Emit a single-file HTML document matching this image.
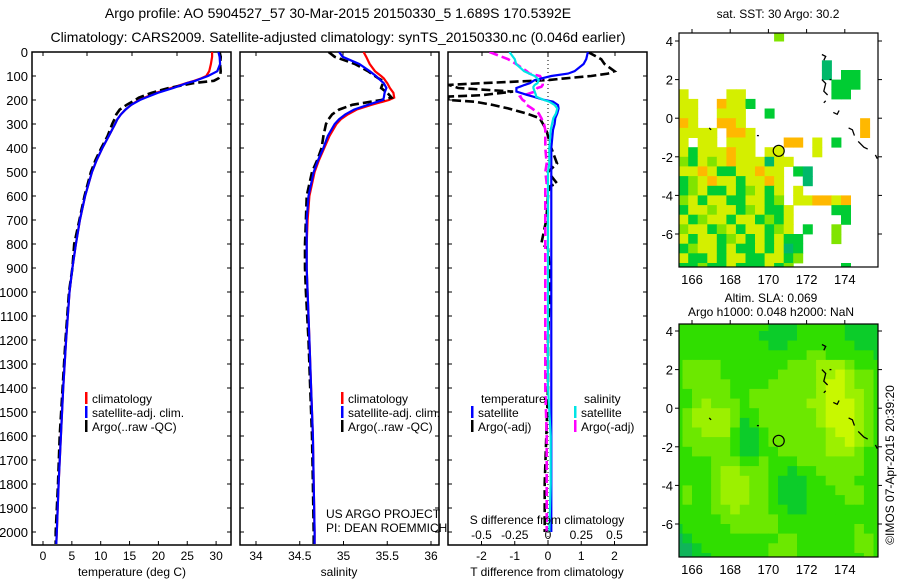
<!DOCTYPE html>
<html><head><meta charset="utf-8"><style>
html,body{margin:0;padding:0;background:#fff;}
svg{display:block;font-family:"Liberation Sans",sans-serif;}
text{fill:#000;}
</style></head><body>
<svg id="fig" width="900" height="580" viewBox="0 0 900 580" xmlns="http://www.w3.org/2000/svg">
<defs>
<clipPath id="c1"><rect x="32" y="52" width="199" height="493"/></clipPath>
<clipPath id="c2"><rect x="240" y="52" width="199" height="493"/></clipPath>
<clipPath id="c3"><rect x="448" y="52" width="199" height="493"/></clipPath>
<clipPath id="m1"><rect x="679" y="33" width="199" height="234"/></clipPath>
<clipPath id="m2"><rect x="679" y="324" width="199" height="233"/></clipPath>
</defs>
<text x="338" y="18" font-size="14" text-anchor="middle">Argo profile: AO 5904527_57 30-Mar-2015 20150330_5 1.689S 170.5392E</text>
<text x="338" y="42" font-size="14" text-anchor="middle">Climatology: CARS2009. Satellite-adjusted climatology: synTS_20150330.nc (0.046d earlier)</text>
<g id="g"></g>
</svg>
<script>
// ---- profile data ----
const depthP = [0,20,50,80,100,110,120,130,150,170,190,200,220,240,260,280,300,350,400,450,500,600,700,800,900,1000,1200,1400,1600,1800,2000,2050];
const climT = [29.3,29.3,29.1,28.8,28.3,27.4,26.2,24.8,22.2,19.6,17.6,16.6,15.3,14.3,13.5,12.9,12.5,11.4,10.3,9.3,8.5,7.3,6.4,5.7,5.1,4.6,4.0,3.5,3.1,2.7,2.4,2.3];
const satT = [30.4,30.6,30.7,30.2,28.6,27.5,26.4,24.9,22.6,19.9,17.8,16.8,15.3,14.3,13.5,12.9,12.5,11.4,10.3,9.3,8.5,7.3,6.4,5.7,5.1,4.6,4.0,3.5,3.1,2.7,2.4,2.3];
const argoT = [30.6,30.8,30.7,30.8,30.7,30.4,29.6,26.0,21.8,18.8,16.6,16.0,14.5,13.3,12.7,12.4,12.0,11.2,10.1,9.1,8.3,7.2,6.3,5.4,5.1,4.5,3.9,3.4,2.9,2.6,2.2,2.2];
const climS = [35.23,35.26,35.3,35.36,35.43,35.46,35.48,35.5,35.53,35.57,35.58,35.52,35.32,35.15,35.05,34.97,34.92,34.84,34.78,34.72,34.67,34.61,34.59,34.58,34.58,34.59,34.61,34.63,34.65,34.66,34.67,34.67];
const satS = [34.95,34.99,35.18,35.3,35.37,35.4,35.43,35.46,35.49,35.47,35.46,35.45,35.28,35.12,35.02,34.95,34.9,34.82,34.77,34.71,34.66,34.6,34.58,34.58,34.58,34.59,34.61,34.63,34.65,34.66,34.67,34.67];
const argoS = [34.83,34.9,35.13,35.28,35.36,35.4,35.45,35.45,35.43,35.5,35.55,35.43,35.1,34.95,34.87,34.83,34.8,34.77,34.75,34.7,34.64,34.58,34.57,34.56,34.56,34.57,34.6,34.62,34.64,34.65,34.66,34.66];
const depthD = [0,30,50,80,90,100,110,117,130,137,145,150,165,180,186,200,207,221,235,256,276,300,325,400,464,500,547,560,600,700,797,820,900,1000,1200,1400,1600,1800,2000];
const satDT = [1.2,1.15,1.07,0.8,0.6,0.1,-0.2,-0.4,-0.55,-0.7,-0.85,-0.95,-0.95,-0.6,-0.45,-0.1,0.15,0.3,0.32,0.28,0.22,0.2,0.15,0.1,0.1,0.1,0.1,0.1,0.1,0.1,0.1,0.1,0.1,0.1,0.1,0.1,0.1,0.1,0.1];
const argoDT = [1.2,1.6,1.7,2.0,1.8,1.3,0.5,0,-2,-3,-2.8,-2.7,-1.05,-2,-3,-3,-2.2,-1.65,-1.2,-0.65,-0.25,-0.15,-0.05,0.1,0.27,0,0.27,0.05,0,-0.05,-0.2,0.0,0.05,0.05,0.0,0.0,-0.05,-0.1,-0.1];
const satDS = [-0.29,-0.25,-0.24,-0.18,-0.14,-0.1,-0.08,-0.07,-0.08,-0.1,-0.11,-0.11,-0.1,-0.09,-0.09,-0.03,0.01,0.05,0.07,0.06,0.04,0.03,0.02,0.01,0.01,0,0,0,0,0,0,0,0,0,0,0,0.02,0.02,0.01];
const argoDS = [-0.44,-0.3,-0.24,-0.16,-0.14,-0.06,-0.05,-0.04,-0.04,-0.04,-0.05,-0.08,-0.1,-0.18,-0.21,-0.19,-0.17,-0.16,-0.12,-0.07,-0.05,-0.03,-0.02,-0.02,-0.01,-0.02,-0.01,-0.02,-0.02,-0.02,-0.02,-0.02,-0.02,-0.02,-0.02,-0.02,-0.01,-0.01,-0.01];
const depthTicks = [0,100,200,300,400,500,600,700,800,900,1000,1100,1200,1300,1400,1500,1600,1700,1800,1900,2000];
const tTicks = [0,5,10,15,20,25,30];
const sTicks = [34,34.5,35,35.5,36];
const sTickLabels = ["34","34.5","35","35.5","36"];
const dtTicks = [-2,-1,0,1,2];
const dsTicks = [-0.5,-0.25,0,0.25,0.5];
const dsTickLabels = ["-0.5","-0.25","0","0.25","0.5"];
// ---- map data ----
const lonTicks = [166,168,170,172,174];
const latTicks = [4,2,0,-2,-4,-6];
const argoLon = 170.54, argoLat = -1.69;
const sstLon0 = 165.3, sstLat0 = 4.5;
const sstGrid = [
"..........g..........",
".....................",
".....................",
"...............t.....",
"...............t.GG..",
"................GGG..",
"y....yy.........GG...",
"yy..oyyG.............",
"yy..yyy..G...........",
"oy..ooy............o.",
"yyyy.ooy...........o.",
"y.yy.yyy...oo.y.G....",
"yGyyyoyy.yy...y......",
"gGygyoyyytyy.........",
"yyoyGGyyoyy.Gt.......",
"GgyoyyGyyoy..t.......",
"GgyGGyGgyGy.y........",
"gyGyyGGyyGg.yyooyo...",
"GyygyyGgyGGy....GG...",
"yGgyyGyyGgGy.....G...",
"gyyGgyGyyGgy.G..g....",
"yGyyGgyGyGyGG...g....",
"GgyyGyGGyGytG........",
"yGGyGyyGGyyGg........",
"GGgGGyGGGyGg.....G..."
];
const sstColors = {y:"#d4ef00", o:"#ffb800", G:"#00cc33", g:"#80e400", t:"#00b86a"};
const slaLon0 = 165.0, slaLat0 = 4.5;
const slaGrid = [
"bbbbbbbbbbaaabbbbbaaaa",
"bbbbbbbbbaaaabbbbbaaaa",
"bbbbbbbbbbaabbbbbbbaaa",
"bbbbbbbbbbbbbbccbbbbba",
"bccccbbbbbbbcccdddcbbb",
"bccccbbbbbbccccddedccb",
"bcccccbbbbcccccdeedccb",
"bbccccbbcccccccdeeddcb",
"bbcdcccbccccccddeeedcb",
"bcddddcbbccccccdeeedcb",
"bcddddcabccccccdeeedcb",
"bccdddbaabccccccdeedcb",
"bcccccbaabccccccddedcb",
"bbccccbaabbcccccdddcbb",
"bbbbcccbbcbbbcccccccbb",
"bbbbcddcccbbabbcccccbb",
"bbbbcdddccbaaabbcccbbb",
"bcbbcdddccbaaabbbcccbb",
"bcbbcdddccbaaabbbbccbb",
"bbbbccdcccbbaabbbbbbbb",
"bbbbbccccccbbbbbbbbbbb",
"abbbbbcccccbbbbbbbbcbb",
"fabbbbbbbbbccbbbbbbccb",
"ffabbbbbbbcccbbbbbbccb",
"ffaabbbbbbcccbbbbbbbcb"
];
const slaColors = {a:"#0ccc2a", b:"#30de00", c:"#6ce800", d:"#9cf000", e:"#c8f800", f:"#10b45a"};

// ---- scales ----
const NS="http://www.w3.org/2000/svg";
const G=document.getElementById('g');
function depthY(d){return 52+d*0.24;}
function tX(t){return 43+5.77*t;}
function sX(s){return 256+87.5*(s-34);}
function dtX(v){return 548+33.25*v;}
function dsX(v){return 548+133*v;}
function lonX(l){return 692+(l-166)*19.1;}
function latY1(la){return 41+(4-la)*19.3;}
function latY2(la){return 331+(4-la)*19.3;}
function mk(tag,attrs,parent){const e=document.createElementNS(NS,tag);for(const k in attrs)e.setAttribute(k,attrs[k]);(parent||G).appendChild(e);return e;}
function txt(x,y,s,size,anchor,parent){const e=mk('text',{x:x,y:y,'font-size':size,'text-anchor':anchor||'start'},parent);e.textContent=s;return e;}

function panelFrame(x0,name){
  const r=mk('rect',{x:x0,y:52,width:199,height:493,fill:'none',stroke:'#000','stroke-width':1.5});
  
  
  depthTicks.forEach(d=>{
    const y=depthY(d);
    mk('line',{x1:x0,x2:x0+4,y1:y,y2:y,stroke:'#000'});
    mk('line',{x1:x0+199,x2:x0+195,y1:y,y2:y,stroke:'#000'});
  });
}
function profileLine(depths,vals,xf,color,dashed,clip,name){
  let d='';
  for(let i=0;i<depths.length;i++){d+=(i?'L':'M')+xf(vals[i]).toFixed(1)+' '+depthY(depths[i]).toFixed(1);}
  const p=mk('path',{d:d,fill:'none',stroke:color,'stroke-width':dashed?2.6:2.2,'clip-path':'url(#'+clip+')'});
  if(dashed)p.setAttribute('stroke-dasharray','9,4');
  
  
}
function xTicks(ticks,labels,xf,y,x0){
  ticks.forEach((t,i)=>{
    const x=xf(t);
    mk('line',{x1:x,x2:x,y1:545,y2:541,stroke:'#000'});
    const e=txt(x,y,labels?labels[i]:String(t),12,'middle');
    
    
  });
}
// depth labels
depthTicks.forEach(d=>{
  const e=txt(28,depthY(d)+5,String(d),13,'end');
  
  
});
// panel 1
panelFrame(32,'temperature-panel');
[43,87,132,177,220].forEach(x=>mk('line',{x1:x,x2:x,y1:52,y2:56,stroke:'#000'}));
profileLine(depthP,climT,tX,'#ff0000',false,'c1','climatology-temperature-line');
profileLine(depthP,argoT,tX,'#000',true,'c1','argo-temperature-line');
profileLine(depthP,satT,tX,'#0000ff',false,'c1','satellite-temperature-line');
xTicks(tTicks,null,tX,560);
let t1=txt(132,576,'temperature (deg C)',12,'middle');
// panel 2
panelFrame(240,'salinity-panel');
[256,343,431].forEach(x=>mk('line',{x1:x,x2:x,y1:52,y2:56,stroke:'#000'}));
profileLine(depthP,climS,sX,'#ff0000',false,'c2','climatology-salinity-line');
profileLine(depthP,argoS,sX,'#000',true,'c2','argo-salinity-line');
profileLine(depthP,satS,sX,'#0000ff',false,'c2','satellite-salinity-line');
xTicks(sTicks,sTickLabels,sX,560);
let t2=txt(339,576,'salinity',12,'middle');
// panel 3
panelFrame(448,'difference-panel');
[482,548,615].forEach(x=>mk('line',{x1:x,x2:x,y1:52,y2:56,stroke:'#000'}));
mk('line',{x1:548,x2:548,y1:52,y2:545,stroke:'#000','stroke-dasharray':'1,3','stroke-width':1});
profileLine(depthD,argoDT,dtX,'#000',true,'c3','argo-temperature-difference-line');
profileLine(depthD,argoDS,dsX,'#ff00ff',true,'c3','argo-salinity-difference-line');
profileLine(depthD,satDT,dtX,'#0000ff',false,'c3','satellite-temperature-difference-line');
profileLine(depthD,satDS,dsX,'#00e5e5',false,'c3','satellite-salinity-difference-line');
xTicks(dtTicks,null,dtX,560);
dsTicks.forEach((t,i)=>{const e=txt(dsX(t),539,dsTickLabels[i],12,'middle');});
let t3=txt(547,576,'T difference from climatology',12,'middle');
let t4=txt(547,524,'S difference from climatology',12,'middle');
let t5=txt(326,518,'US ARGO PROJECT',12);
let t6=txt(326,532,'PI: DEAN ROEMMICH',12);
// legends
function legendEntry(x,y,color,label){
  const g=mk('g',{});
  
  
  mk('rect',{x:x,y:y-11,width:2.5,height:12,fill:color},g);
  txt(x+7,y,label,12,'start',g);
}
legendEntry(85,403,'#ff0000','climatology');
legendEntry(85,417,'#0000ff','satellite-adj. clim.');
legendEntry(85,431,'#000','Argo(..raw -QC)');
legendEntry(341,403,'#ff0000','climatology');
legendEntry(341,417,'#0000ff','satellite-adj. clim.');
legendEntry(341,431,'#000','Argo(..raw -QC)');
let lt=txt(481,403,'temperature',12);
let ls=txt(584,403,'salinity',12);
legendEntry(471,417,'#0000ff','satellite');
legendEntry(471,431,'#000','Argo(-adj)');
legendEntry(574,417,'#00e5e5','satellite');
legendEntry(574,431,'#ff00ff','Argo(-adj)');

// ---- maps ----
function drawGrid(grid,colors,lon0,lat0,latY,clip,name){
  const g=mk('g',{'clip-path':'url(#'+clip+')'});
  
  
  grid.forEach((row,r)=>{
    for(let c=0;c<row.length;c++){
      const ch=row[c]; if(!colors[ch])continue;
      const x=lonX(lon0+0.5*c), y=latY(lat0-0.5*r);
      mk('rect',{x:x.toFixed(1),y:y.toFixed(1),width:(0.5*19.1+0.4).toFixed(1),height:(0.5*19.3+0.4).toFixed(1),fill:colors[ch]},g);
    }
  });
}
function mapFrame(top,h,latY,name,labelY){
  const r=mk('rect',{x:679,y:top,width:199,height:h,fill:'none',stroke:'#000','stroke-width':1.2});
  
  
  lonTicks.forEach(l=>{
    const x=lonX(l);
    mk('line',{x1:x,x2:x,y1:top,y2:top-4,stroke:'#000'});
    const e=txt(x,labelY,String(l),13,'middle');
    
    
  });
  latTicks.forEach(la=>{
    const y=latY(la);
    mk('line',{x1:679,x2:675,y1:y,y2:y,stroke:'#000'});
    mk('line',{x1:878,x2:882,y1:y,y2:y,stroke:'#000'});
    const e=txt(673,y+5,String(la),13,'end');
    
    
  });
}
function coast(latY,clip){
  const segs=[[[172.8,3.3],[173.0,3.2],[172.9,3.0]],[[172.8,2.0],[173.0,1.8],[172.9,1.4],[173.1,1.2]],[[173.2,2.0],[173.3,2.0]],[[173.0,0.9],[172.9,0.8]],[[173.4,0.3],[173.6,0.2],[173.7,0.4]],[[174.2,-0.5],[174.4,-0.6],[174.5,-0.9]],[[174.7,-1.2],[175.0,-1.5],[175.2,-1.6]],[[175.6,-1.9],[175.7,-2.1]],[[166.9,-0.5],[167.0,-0.6]],[[169.4,-0.9],[169.5,-0.9]]];
  const g=mk('g',{'clip-path':'url(#'+clip+')'});
  
  
  segs.forEach(s=>{mk('path',{d:s.map((p,i)=>(i?'L':'M')+lonX(p[0]).toFixed(1)+' '+latY(p[1]).toFixed(1)).join(''),fill:'none',stroke:'#000','stroke-width':1.3},g);});
}
drawGrid(sstGrid,sstColors,sstLon0,sstLat0,latY1,'m1','sst-map-cells');
coast(latY1,'m1');
let c1=mk('circle',{cx:lonX(argoLon),cy:latY1(argoLat),r:5.5,fill:'#d8f000',stroke:'#000','stroke-width':1.2});

mapFrame(33,234,latY1,'sst-map',284);
let mt1=txt(778,18,'sat. SST: 30 Argo: 30.2',12,'middle');

drawGrid(slaGrid,slaColors,slaLon0,slaLat0,latY2,'m2','sla-map-cells');
coast(latY2,'m2');
let c2=mk('circle',{cx:lonX(argoLon),cy:latY2(argoLat),r:5.5,fill:'none',stroke:'#000','stroke-width':1.2});

mapFrame(324,233,latY2,'sla-map',574);
let mt2=txt(771,302,'Altim. SLA: 0.069',12,'middle');
let mt3=txt(771,316,'Argo h1000: 0.048 h2000: NaN',12,'middle');
let cr=txt(0,0,'\u00A9IMOS 07-Apr-2015 20:39:20',12,'middle');
cr.setAttribute('transform','translate(894,465) rotate(-90)');

</script>
</body></html>
